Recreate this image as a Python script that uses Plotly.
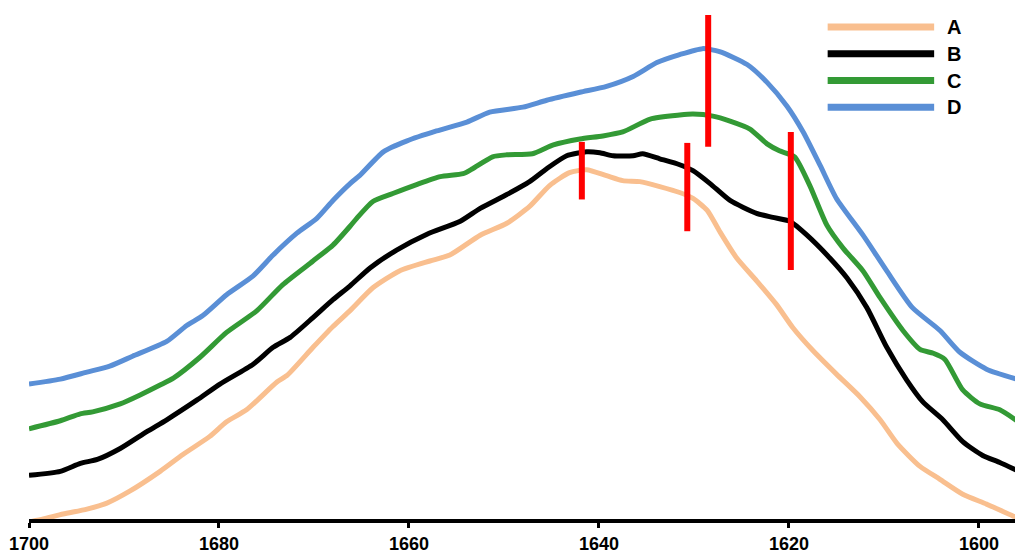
import plotly.graph_objects as go

# Amide I region spectra (wavenumber in cm-1, intensity in arbitrary units)
wn_a = [1700, 1698.5, 1696.4, 1693.9, 1691.8, 1689.4, 1686.2, 1683.8, 1681.0, 1679.2,
        1677.1, 1673.9, 1672.8, 1670.1, 1668.0, 1666.2, 1663.8, 1661.0, 1657.8, 1655.7,
        1652.5, 1649.7, 1647.3, 1645.2, 1643.1, 1641.3, 1639.2, 1637.5, 1635.7, 1633.6,
        1631.5, 1630.1, 1628.6, 1627.3, 1625.5, 1623.4, 1621.3, 1619.6, 1617.5, 1615.0,
        1612.5, 1610.4, 1608.6, 1606.2, 1604.1, 1601.7, 1599.2, 1596.4, 1596.0]
ab_a = [-3, 0, 5, 10, 16, 28, 48, 65, 83, 98,
        110, 138, 145, 173, 194, 210, 233, 250, 260, 266,
        286, 298, 315, 336, 349, 352, 346, 341, 340, 335,
        329, 323, 311, 290, 263, 240, 216, 193, 170, 146,
        123, 100, 76, 53, 40, 25, 15, 3, 2]

wn_b = [1700, 1696.7, 1694.6, 1692.8, 1690.4, 1687.6, 1685.5, 1682.3, 1679.9, 1676.4,
        1674.3, 1672.5, 1670.1, 1668.0, 1666.2, 1664.1, 1661.3, 1658.1, 1654.6, 1652.5,
        1649.7, 1647.3, 1645.5, 1643.4, 1641.3, 1639.9, 1638.5, 1636.4, 1635.4, 1633.6,
        1631.5, 1630.1, 1628.3, 1626.2, 1623.4, 1621.7, 1619.9, 1618.1, 1615.7, 1613.9,
        1611.8, 1609.7, 1607.6, 1605.9, 1603.8, 1601.7, 1599.6, 1597.8, 1596.0]
ab_b = [44, 48, 56, 60, 71, 88, 100, 120, 136, 156,
        173, 183, 203, 221, 235, 253, 271, 287, 300, 313,
        327, 340, 353, 366, 370, 369, 366, 366, 368, 363,
        357, 351, 338, 321, 308, 304, 300, 286, 263, 243,
        213, 173, 140, 118, 100, 78, 64, 57, 49]

wn_c = [1700, 1696.7, 1694.6, 1693.3, 1690.4, 1688.3, 1686.2, 1684.8, 1682.0, 1679.2,
        1676.0, 1673.3, 1670.1, 1668.0, 1666.2, 1665.5, 1663.8, 1661.7, 1659.2, 1656.7,
        1654.3, 1653.3, 1651.2, 1649.7, 1647.0, 1644.8, 1642.0, 1639.6, 1637.5, 1634.6,
        1631.5, 1630.1, 1628.0, 1626.2, 1624.1, 1622.3, 1621.0, 1619.4, 1617.8, 1616.0,
        1614.3, 1612.2, 1610.4, 1608.0, 1606.2, 1604.8, 1603.6, 1601.7, 1599.9, 1597.8,
        1596.0]
ab_c = [91, 99, 106, 108, 116, 125, 135, 142, 163, 188,
        210, 236, 260, 276, 295, 303, 320, 328, 337, 345,
        348, 353, 365, 367, 368, 377, 383, 386, 390, 403,
        407, 408, 406, 401, 393, 378, 371, 365, 336, 296,
        273, 250, 223, 190, 171, 167, 161, 130, 116, 110,
        99]

wn_d = [1700, 1696.7, 1693.9, 1691.5, 1689.1, 1685.5, 1683.4, 1681.7, 1679.2, 1676.4,
        1674.3, 1671.8, 1669.7, 1668.0, 1666.2, 1665.2, 1662.7, 1660.2, 1657.1, 1653.9,
        1651.5, 1648.0, 1645.5, 1642.0, 1639.2, 1636.4, 1633.9, 1631.5, 1629.1, 1627.3,
        1624.4, 1622.3, 1620.2, 1618.5, 1616.7, 1615.0, 1612.2, 1609.7, 1607.0, 1604.1,
        1602.0, 1599.2, 1596.0]
ab_d = [136, 141, 148, 154, 164, 179, 195, 205, 226, 245,
        266, 288, 303, 321, 338, 346, 370, 381, 391, 400,
        410, 415, 422, 430, 436, 446, 460, 468, 474, 471,
        458, 440, 416, 390, 356, 323, 286, 250, 213, 190,
        168, 151, 141]

series_names = ["A", "B", "C", "D"]
series_colors = ["#F9BF8F", "#000000", "#339A35", "#5A8FD6"]

# Band position markers (red vertical bars)
mark_wn = [1641.8, 1630.7, 1628.5, 1619.8]
mark_lo = [322, 290, 375, 251]
mark_hi = [380, 379, 508, 390]

tick_vals = [1700, 1680, 1660, 1640, 1620, 1600]
tick_text = ["1700", "1680", "1660", "1640", "1620", "1600"]

fig = go.Figure()
for wn, ab, name, col in zip([wn_a, wn_b, wn_c, wn_d], [ab_a, ab_b, ab_c, ab_d],
                             series_names, series_colors):
    fig.add_trace(go.Scatter(x=wn, y=ab, mode="lines", name=name,
                             line=dict(color=col, width=5, shape="spline", smoothing=0.6),
                             showlegend=False, hoverinfo="skip"))

bx, by = [], []
for w, lo, hi in zip(mark_wn, mark_lo, mark_hi):
    bx += [w, w, None]
    by += [lo, hi, None]
fig.add_trace(go.Scatter(x=bx, y=by, mode="lines", line=dict(color="#FF0000", width=6),
                         showlegend=False, hoverinfo="skip"))

# Legend with long sample lines, placed in paper coordinates
leg_x0, leg_x1, leg_tx = 0.810, 0.918, 0.929
leg_top, leg_step = 0.948, 0.0516
for i, (name, col) in enumerate(zip(series_names, series_colors)):
    yy = leg_top - i * leg_step
    fig.add_shape(type="line", xref="paper", yref="paper", x0=leg_x0, x1=leg_x1,
                  y0=yy, y1=yy, line=dict(color=col, width=7))
    fig.add_annotation(xref="paper", yref="paper", x=leg_tx, y=yy, text=name,
                       showarrow=False, xanchor="left", yanchor="middle",
                       font=dict(family="Liberation Sans, Arial", size=20, color="#000000",
                                 weight="bold"))

fig.update_layout(
    width=1015, height=554,
    margin=dict(l=29, r=0, t=0, b=31),
    paper_bgcolor="white", plot_bgcolor="white",
    showlegend=False,
    xaxis=dict(range=[1700, 1596.2], tickvals=tick_vals, ticktext=tick_text,
               showline=True, linecolor="#000000", linewidth=4,
               ticks="outside", ticklen=5, tickwidth=3, tickcolor="#000000",
               showgrid=False, zeroline=False,
               tickfont=dict(family="Liberation Sans, Arial", size=18, color="#000000",
                             weight="bold")),
    yaxis=dict(range=[0, 523], visible=False, showgrid=False, zeroline=False),
)

fig.write_html("out.html")
